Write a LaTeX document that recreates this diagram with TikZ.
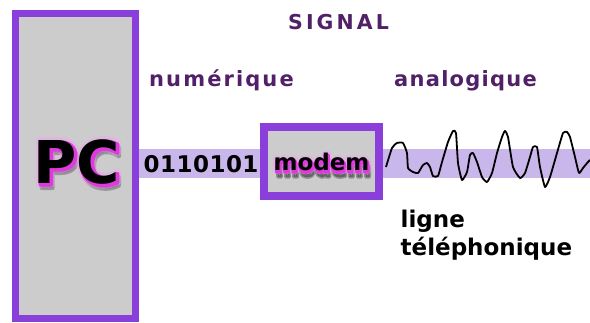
\documentclass[tikz,border=0pt]{standalone}
\usepackage{fontspec}
\setmainfont{DejaVu Sans}
\newfontfamily\titlefont[LetterSpace=15]{DejaVu Sans}
\newfontfamily\kindfont[LetterSpace=10]{DejaVu Sans}
\newfontfamily\kindfontb[LetterSpace=6]{DejaVu Sans}
\newfontfamily\bitfont[LetterSpace=2]{DejaVu Sans}

% text drawn as filled and stroked outline, #1 = stroke width in bp
\newcommand\outlined[2]{\special{pdf:literal direct 2 Tr #1 w 1 j}#2\special{pdf:literal direct 0 Tr}}

\definecolor{edge}{RGB}{138,62,218}
\definecolor{panel}{RGB}{204,204,204}
\definecolor{band}{RGB}{201,182,234}
\definecolor{ink}{RGB}{82,32,104}
\definecolor{glow}{RGB}{222,58,222}
\definecolor{halo}{RGB}{242,160,242}

\begin{document}
\begin{tikzpicture}[x=1pt,y=-1pt,
  frame/.style={draw=edge,fill=panel,inner sep=0pt},
  lbl/.style={inner sep=0pt,anchor=base west,text=ink},
  dark/.style={inner sep=0pt,anchor=base west,text=black},
  fx/.style={inner sep=0pt,anchor=base},
  pcfont/.style={font=\fontsize{59}{59}\selectfont\bfseries},
  mdfont/.style={font=\fontsize{23}{23}\selectfont\bfseries}]
\useasboundingbox (0,0) rectangle (590,322);
\fill[white] (0,0) rectangle (590,322);

% signal band from the PC to the line
\coordinate (bandstart) at (139,163.5);
\coordinate (bandend) at (590,163.5);
\draw[band,line width=29pt] (bandstart) -- (bandend);

% PC cabinet
\node[frame,line width=7.5pt,minimum width=120pt,minimum height=305pt] (pc) at (75.5,166) {};

% modem box
\node[frame,line width=8pt,minimum width=115pt,minimum height=69pt] (modem) at (321.5,161.5) {};

% analog waveform on the telephone line
\draw[black,line width=1.8pt,line join=round] plot[smooth,tension=0.3] coordinates {
 (386,167) (392,148) (397,143) (403,143) (407,153) (408,168) (413,172) (418,173)
 (423,165) (427,163) (430,167) (433,176) (438,176) (442,162) (448,142) (453,131)
 (456,133) (458,163) (462,180) (467,172) (470,155) (473,153) (477,162) (482,177)
 (487,182) (492,173) (497,153) (502,137) (505,131) (508,137) (513,167) (520,178)
 (525,173) (530,157) (533,147) (537,147) (540,167) (545,187) (550,177) (557,153)
 (563,133) (567,132) (570,137) (575,157) (579,173) (583,168) (588,162) (590,160)};

% PC label: drop shadow, soft halo, magenta rim, black face
\node[fx,pcfont,text=black,opacity=0.25,shift={(3,5)}] (pcshadow) at (76.5,183) {\outlined{4}{PC}};
\node[fx,pcfont,text=halo,opacity=0.45,shift={(1,1)}] (pchalo) at (76.5,183) {\outlined{8}{PC}};
\node[fx,pcfont,text=glow,shift={(1.6,1.8)}] (pcglow) at (76.5,183) {\outlined{3.4}{PC}};
\node[fx,pcfont,text=black] (pclabel) at (76.5,183) {PC};

% modem label: drop shadow, soft halo, magenta rim, black face
\node[fx,mdfont,text=black,opacity=0.3,shift={(2,7)}] (mdshadow) at (321.5,170) {\outlined{3}{modem}};
\node[fx,mdfont,text=halo,opacity=0.45,shift={(0.5,1)}] (mdhalo) at (321.5,170) {\outlined{6}{modem}};
\node[fx,mdfont,text=glow,shift={(0.8,2.4)}] (mdglow) at (321.5,170) {\outlined{2.4}{modem}};
\node[fx,mdfont,text=black] (mdlabel) at (321.5,170) {modem};

% headings
\node[lbl,font=\titlefont\fontsize{20.5}{20.5}\selectfont\bfseries] (title) at (288,29) {SIGNAL};
\node[lbl,font=\kindfont\fontsize{21}{21}\selectfont\bfseries] (digital) at (149,86) {numérique};
\node[lbl,font=\kindfontb\fontsize{21}{21}\selectfont\bfseries] (analog) at (394,86.5) {analogique};

% bits and line labels
\node[dark,font=\bitfont\fontsize{23}{23}\selectfont\bfseries] (bits) at (143.5,172) {0110101};
\node[dark,font=\fontsize{23}{23}\selectfont\bfseries] (line1) at (400.5,227.5) {ligne};
\node[dark,font=\fontsize{23}{23}\selectfont\bfseries] (line2) at (400.5,255) {téléphonique};
\end{tikzpicture}
\end{document}
